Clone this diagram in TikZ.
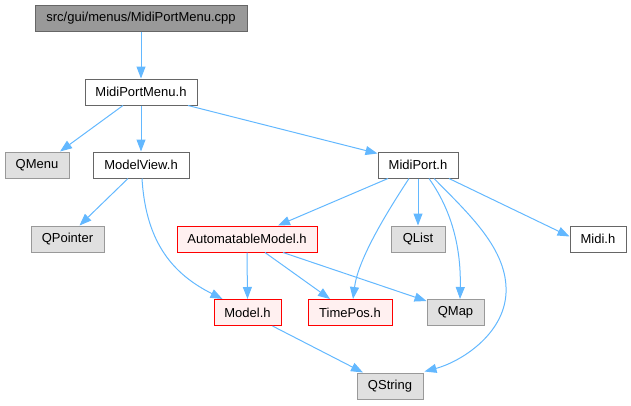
\documentclass[tikz,border=0pt]{standalone}
\usepackage{fontspec}
\setmainfont{Liberation Sans}
\usepackage{xcolor}
\usetikzlibrary{arrows.meta}

\definecolor{edgeblue}{HTML}{63B8FF}
\definecolor{extfill}{HTML}{E0E0E0}
\definecolor{extline}{HTML}{999999}
\definecolor{filline}{HTML}{666666}
\definecolor{redfill}{HTML}{FFF0F0}

\tikzset{
  file/.style={draw=filline, fill=white, line width=1pt, minimum height=26pt,
    inner sep=0pt, font=\fontsize{13}{15}\selectfont},
  topfile/.style={file, fill=extline},
  extfile/.style={file, draw=extline, fill=extfill},
  redfile/.style={file, draw=red, fill=redfill},
  dep/.style={draw=edgeblue, line width=1pt, -{Triangle[length=12pt,width=9pt]}}
}

\begin{document}
\begin{tikzpicture}[x=1pt,y=-1pt]
  \useasboundingbox (0,0) rectangle (631,405);

  % nodes, top to bottom
  \node[topfile,minimum width=212pt] (cpp) at (141,18) {src/gui/menus/MidiPortMenu.cpp};
  \node[file,minimum width=112pt] (mpmenu) at (141,92) {MidiPortMenu.h};

  \node[extfile,minimum width=64pt] (qmenu) at (37,165) {QMenu};
  \node[file,minimum width=96pt] (mview) at (141,165) {ModelView.h};
  \node[file,minimum width=80pt] (mport) at (418,165) {MidiPort.h};

  \node[extfile,minimum width=73pt] (qpointer) at (67.5,239) {QPointer};
  \node[redfile,minimum width=140pt] (amodel) at (247,239) {AutomatableModel.h};
  \node[extfile,minimum width=54pt] (qlist) at (418,239) {QList};
  \node[file,minimum width=56pt] (midih) at (598,239) {Midi.h};

  \node[redfile,minimum width=67pt] (model) at (247.5,312.5) {Model.h};
  \node[redfile,minimum width=84pt] (timepos) at (350,312.5) {TimePos.h};
  \node[extfile,minimum width=57pt] (qmap) at (455.5,312.5) {QMap};

  \node[extfile,minimum width=66pt] (qstring) at (390,386) {QString};

  % includes of the source and MidiPortMenu.h
  \draw[dep] (cpp.south) -- (mpmenu.north);
  \draw[dep] ([xshift=-18pt]mpmenu.south) -- ([xshift=23pt]qmenu.north);
  \draw[dep] (mpmenu.south) -- (mview.north);
  \draw[dep] ([xshift=47pt]mpmenu.south) -- ([yshift=-2pt]mport.north west);

  % ModelView.h
  \draw[dep] ([xshift=-13pt]mview.south) -- ([xshift=12pt]qpointer.north);
  \draw[dep] ([xshift=1pt]mview.south) .. controls (146,245) and (175,275) .. ([xshift=9pt]model.north west);

  % MidiPort.h
  \draw[dep] ([xshift=-30pt]mport.south) -- ([xshift=31pt]amodel.north);
  \draw[dep] ([xshift=-9pt]mport.south) .. controls (385,215) and (358,260) .. ([xshift=3pt]timepos.north);
  \draw[dep] (mport.south) -- (qlist.north);
  \draw[dep] ([xshift=11pt]mport.south) .. controls (455,215) and (461,255) .. ([xshift=4.5pt]qmap.north);
  \draw[dep] ([xshift=16pt]mport.south) .. controls (470,215) and (508,250) .. (506,293)
    .. controls (504,335) and (460,362) .. ([xshift=1pt,yshift=1pt]qstring.north east);
  \draw[dep] ([xshift=31pt]mport.south) -- ([yshift=-11pt]midih.north west);

  % AutomatableModel.h and Model.h
  \draw[dep] (amodel.south) -- (model.north);
  \draw[dep] ([xshift=18pt]amodel.south) -- ([xshift=-20pt]timepos.north);
  \draw[dep] ([xshift=36pt]amodel.south) -- ([yshift=-2pt]qmap.north west);
  \draw[dep] ([xshift=25pt]model.south) -- ([xshift=-27pt]qstring.north);
\end{tikzpicture}
\end{document}
